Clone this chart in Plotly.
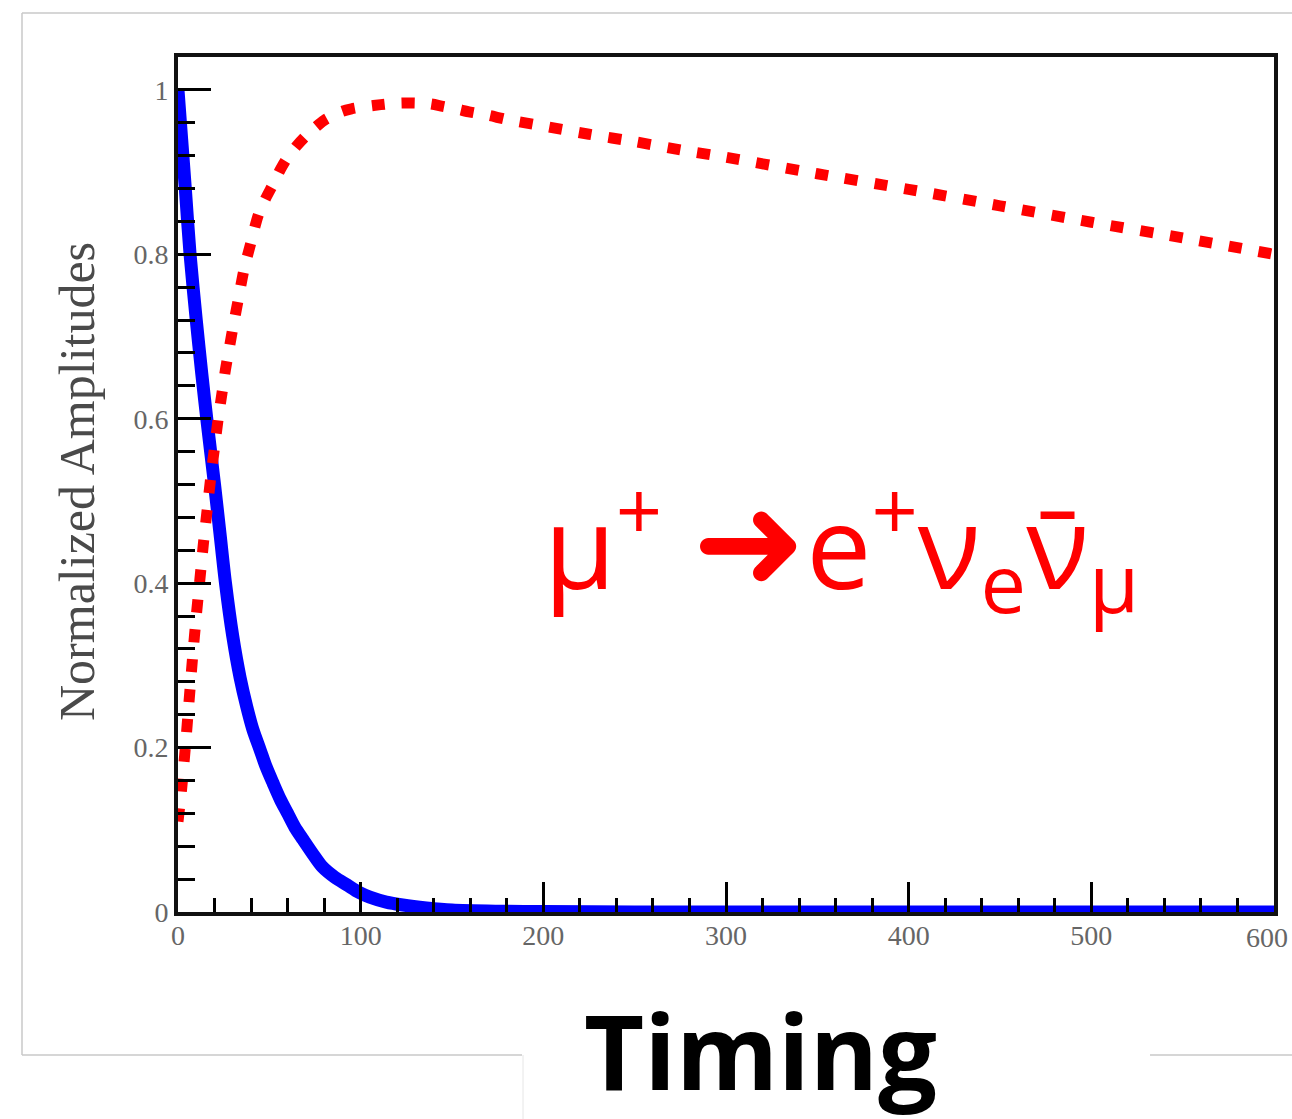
import plotly.graph_objects as go

# ---- data ----
blue_t = [0, 2, 4, 6.6, 10, 13, 16, 20, 23, 26, 30, 34, 37.6, 41, 45, 48, 52, 56, 60, 64, 68.5, 74, 79, 86,
          92.5, 99, 105, 114, 123, 136, 150, 175, 200, 250, 300, 400, 500, 600]
blue_v = [1.0, 0.94, 0.88, 0.80, 0.72, 0.655, 0.595, 0.52, 0.46, 0.40, 0.335, 0.285, 0.25, 0.222, 0.197, 0.178,
          0.157, 0.137, 0.12, 0.103, 0.088, 0.07, 0.055, 0.042, 0.033, 0.024, 0.018, 0.012, 0.0085, 0.005,
          0.0024, 0.001, 0.0005, 0, 0, 0, 0, 0]

red_t = [0, 2, 4, 6, 8, 10, 12, 14, 16, 18, 20, 22, 24, 26, 28, 30, 33, 36, 40, 44, 48, 52, 56, 60, 65, 70,
         75, 80, 85, 90, 95, 100, 107, 115, 122, 130, 138, 145, 152, 160, 170, 180, 200, 225, 250, 275, 300,
         350, 400, 450, 500, 550, 600]
red_v = [0.11, 0.15, 0.20, 0.255, 0.31, 0.36, 0.405, 0.45, 0.49, 0.53, 0.565, 0.60, 0.63, 0.66, 0.685, 0.71,
         0.745, 0.78, 0.815, 0.848, 0.868, 0.885, 0.903, 0.918, 0.932, 0.944, 0.954, 0.963, 0.969, 0.974,
         0.977, 0.979, 0.981, 0.983, 0.984, 0.984, 0.983, 0.98, 0.977, 0.973, 0.969, 0.964, 0.956, 0.946,
         0.937, 0.927, 0.918, 0.898, 0.879, 0.859, 0.839, 0.82, 0.80]

x_ticks = [0, 100, 200, 300, 400, 500, 600]
x_ticktext = ["0", "100", "200", "300", "400", "500", "600"]
y_ticks = [0, 0.2, 0.4, 0.6, 0.8, 1.0]
y_ticktext = ["0", "0.2", "0.4", "0.6", "0.8", "1"]

y_title = "Normalized Amplitudes"
x_title = "Timing"
formula = ("μ<sup>+</sup> <span style='font-family:DejaVu Sans;font-size:136px'>➜</span>"
           "e<sup>+</sup>ν<sub>e</sub>ν\u0304<sub>μ</sub>")

W, H = 1292, 1119
L, R, T, B = 178, 1274, 57, 912


def px(x):
    return (x - L) / (R - L)


def py(y):
    return (B - y) / (B - T)


fig = go.Figure()
fig.add_trace(go.Scatter(x=blue_t, y=blue_v, mode="lines",
                         line=dict(color="#0000ff", width=13, shape="spline", smoothing=0.8),
                         showlegend=False, hoverinfo="skip"))
fig.add_trace(go.Scatter(x=red_t, y=red_v, mode="lines",
                         line=dict(color="#ff0000", width=11, dash="13px,17px", shape="spline", smoothing=0.8),
                         showlegend=False, hoverinfo="skip"))

tickfont = dict(family="Liberation Serif", size=28, color="#666666")

fig.update_layout(
    width=W, height=H,
    margin=dict(l=L, r=W - R, t=T, b=H - B, pad=0),
    paper_bgcolor="white", plot_bgcolor="white",
    xaxis=dict(range=[0, 600], tickvals=x_ticks, ticktext=x_ticktext,
               ticks="inside", ticklen=30, tickwidth=3, tickcolor="black",
               minor=dict(ticks="inside", ticklen=14, tickwidth=3, dtick=20, tickcolor="black"),
               showline=True, linewidth=4, linecolor="#111111", mirror=True,
               showgrid=False, zeroline=False, tickfont=tickfont, ticklabelstandoff=-5),
    yaxis=dict(range=[0, 1.04], tickvals=y_ticks, ticktext=y_ticktext,
               ticks="inside", ticklen=33, tickwidth=3, tickcolor="black",
               minor=dict(ticks="inside", ticklen=17, tickwidth=3, dtick=0.04, tickcolor="black"),
               showline=True, linewidth=4, linecolor="#111111", mirror=True,
               showgrid=False, zeroline=False, tickfont=tickfont),
)

# the last x tick label sits on the right page edge; plotly hides it, so place it
# at the same axis value, nudged to stay inside the page
fig.add_annotation(text=x_ticktext[-1], xref="x", x=x_ticks[-1], yref="paper", y=py(937),
                   xanchor="right", yanchor="middle", xshift=16, showarrow=False, font=tickfont)

# outer light-gray frame (slide border)
frame = dict(color="#c8c8c8", width=1.5)
fig.add_shape(type="line", xref="paper", yref="paper", x0=px(22), x1=px(1292), y0=py(13), y1=py(13), line=frame)
fig.add_shape(type="line", xref="paper", yref="paper", x0=px(22), x1=px(22), y0=py(13), y1=py(1055), line=frame)
fig.add_shape(type="line", xref="paper", yref="paper", x0=px(22), x1=px(522), y0=py(1055), y1=py(1055), line=frame)
fig.add_shape(type="line", xref="paper", yref="paper", x0=px(1150), x1=px(1292), y0=py(1055), y1=py(1055), line=frame)
fig.add_shape(type="line", xref="paper", yref="paper", x0=px(523), x1=px(523), y0=py(1055), y1=py(1119),
              line=dict(color="#e6e6e6", width=1))

fig.add_annotation(text=y_title, xref="paper", yref="paper", x=px(77), y=py(482),
                   textangle=-90, showarrow=False, xanchor="center", yanchor="middle",
                   font=dict(family="Liberation Serif", size=50, color="#4a4a4a"))

fig.add_annotation(text="<b>" + x_title + "</b>", xref="paper", yref="paper", x=px(760), y=py(1049),
                   showarrow=False, xanchor="center", yanchor="middle",
                   font=dict(family="Open Sans", size=104, color="black"))

fig.add_annotation(text=formula, xref="paper", yref="paper", x=px(542), y=py(545),
                   showarrow=False, xanchor="left", yanchor="middle",
                   font=dict(family="Open Sans", size=116, color="#ff0000"))

fig.write_html("out.html")
